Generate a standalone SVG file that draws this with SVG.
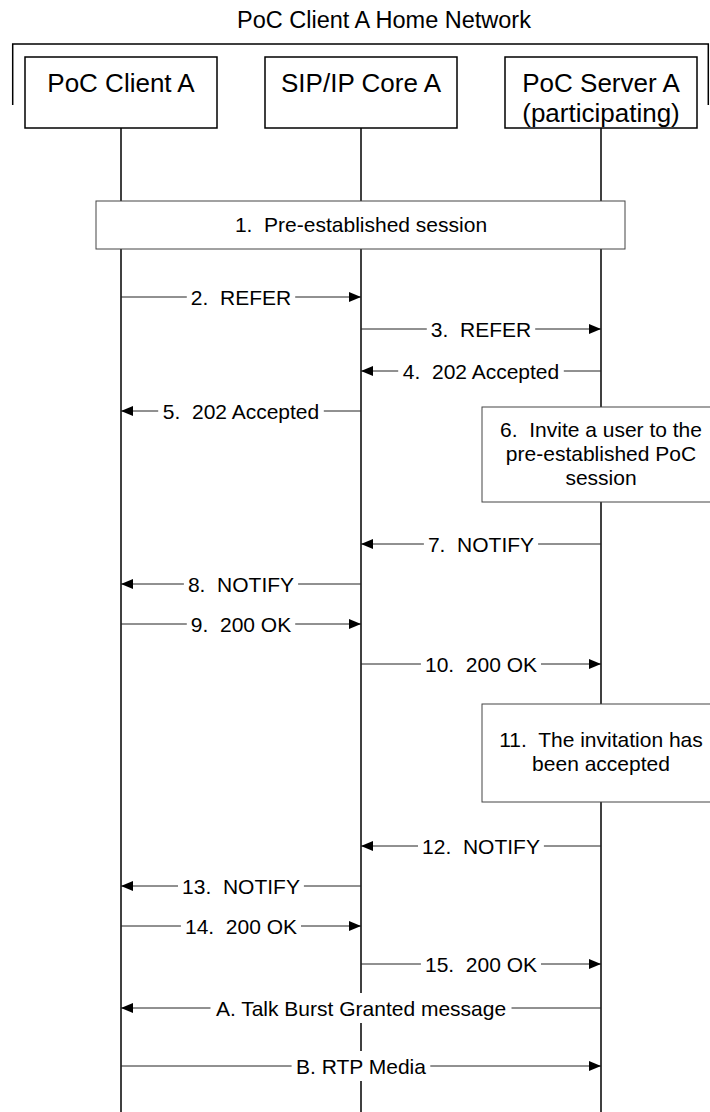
<svg xmlns="http://www.w3.org/2000/svg" width="710" height="1112" viewBox="0 0 710 1112">
<style>
text{font-family:"Liberation Sans",Arial,sans-serif;fill:#000}
.title{font-size:23.5px}
.hdr{font-size:26px}
.lbl{font-size:21px}
.hbox{fill:#fff;stroke:#000;stroke-width:1.5}
.sbox{fill:#fff;stroke:#444;stroke-width:1}
.life{stroke:#000;stroke-width:1.5;fill:none}
.msg{stroke:#222;stroke-width:1;fill:none;marker-end:url(#ah)}
.bg{fill:#fff}
</style>
<defs>
<marker id="ah" markerUnits="userSpaceOnUse" markerWidth="12" markerHeight="10" refX="12" refY="5" orient="auto">
<path d="M0,0 L12,5 L0,10 z" fill="#000"/>
</marker>
</defs>
<rect width="710" height="1112" fill="#fff"/>
<g id="network">
<text class="title" x="384" y="28" text-anchor="middle">PoC Client A Home Network</text>
<path class="life" d="M12.7,105 V44 H708.3 V105"/>
</g>
<g id="lifelines">
<line class="life" x1="121" y1="128" x2="121" y2="1112"/>
<line class="life" x1="361" y1="128" x2="361" y2="1112"/>
<line class="life" x1="601" y1="128" x2="601" y2="1112"/>
</g>
<g id="clientA">
<rect class="hbox" x="25" y="57" width="192" height="71"/>
<text class="hdr" x="121" y="92" text-anchor="middle">PoC Client A</text>
</g>
<g id="sipCoreA">
<rect class="hbox" x="265" y="57" width="192" height="71"/>
<text class="hdr" x="361" y="92" text-anchor="middle">SIP/IP Core A</text>
</g>
<g id="serverA">
<rect class="hbox" x="505" y="57" width="192" height="71"/>
<text class="hdr" x="601" y="92" text-anchor="middle">PoC Server A</text>
<text class="hdr" x="601" y="122" text-anchor="middle">(participating)</text>
</g>
<g id="step1">
<rect class="sbox" x="96" y="201" width="529" height="48"/>
<text class="lbl" x="361" y="232" text-anchor="middle" xml:space="preserve">1.  Pre-established session</text>
</g>
<g id="step6">
<rect class="sbox" x="482" y="407" width="240" height="95"/>
<text class="lbl" x="601" y="437" text-anchor="middle" xml:space="preserve">6.  Invite a user to the</text>
<text class="lbl" x="601" y="461" text-anchor="middle">pre-established PoC</text>
<text class="lbl" x="601" y="485" text-anchor="middle">session</text>
</g>
<g id="step11">
<rect class="sbox" x="482" y="704" width="240" height="98"/>
<text class="lbl" x="601" y="747" text-anchor="middle" xml:space="preserve">11.  The invitation has</text>
<text class="lbl" x="601" y="771" text-anchor="middle">been accepted</text>
</g>
<g id="connectors">
<line class="msg" x1="121" y1="297" x2="361" y2="297"/>
<rect class="bg" x="186.8" y="284" width="108.4" height="26"/>
<text class="lbl" x="241" y="304.5" text-anchor="middle" xml:space="preserve">2.  REFER</text>

<line class="msg" x1="361" y1="329" x2="601" y2="329"/>
<rect class="bg" x="426.8" y="316" width="108.4" height="26"/>
<text class="lbl" x="481" y="336.5" text-anchor="middle" xml:space="preserve">3.  REFER</text>

<line class="msg" x1="601" y1="371" x2="361" y2="371"/>
<rect class="bg" x="398.2" y="358" width="165.6" height="26"/>
<text class="lbl" x="481" y="378.5" text-anchor="middle" xml:space="preserve">4.  202 Accepted</text>

<line class="msg" x1="361" y1="411" x2="121" y2="411"/>
<rect class="bg" x="158.2" y="398" width="165.6" height="26"/>
<text class="lbl" x="241" y="418.5" text-anchor="middle" xml:space="preserve">5.  202 Accepted</text>

<line class="msg" x1="601" y1="544" x2="361" y2="544"/>
<rect class="bg" x="423.9" y="531" width="114.2" height="26"/>
<text class="lbl" x="481" y="551.5" text-anchor="middle" xml:space="preserve">7.  NOTIFY</text>

<line class="msg" x1="361" y1="584" x2="121" y2="584"/>
<rect class="bg" x="183.9" y="571" width="114.2" height="26"/>
<text class="lbl" x="241" y="591.5" text-anchor="middle" xml:space="preserve">8.  NOTIFY</text>

<line class="msg" x1="121" y1="624" x2="361" y2="624"/>
<rect class="bg" x="186.8" y="611" width="108.4" height="26"/>
<text class="lbl" x="241" y="631.5" text-anchor="middle" xml:space="preserve">9.  200 OK</text>

<line class="msg" x1="361" y1="664" x2="601" y2="664"/>
<rect class="bg" x="420.9" y="651" width="120.1" height="26"/>
<text class="lbl" x="481" y="671.5" text-anchor="middle" xml:space="preserve">10.  200 OK</text>

<line class="msg" x1="601" y1="846" x2="361" y2="846"/>
<rect class="bg" x="418" y="833" width="125.9" height="26"/>
<text class="lbl" x="481" y="853.5" text-anchor="middle" xml:space="preserve">12.  NOTIFY</text>

<line class="msg" x1="361" y1="886" x2="121" y2="886"/>
<rect class="bg" x="178" y="873" width="125.9" height="26"/>
<text class="lbl" x="241" y="893.5" text-anchor="middle" xml:space="preserve">13.  NOTIFY</text>

<line class="msg" x1="121" y1="926" x2="361" y2="926"/>
<rect class="bg" x="180.9" y="913" width="120.1" height="26"/>
<text class="lbl" x="241" y="933.5" text-anchor="middle" xml:space="preserve">14.  200 OK</text>

<line class="msg" x1="361" y1="964" x2="601" y2="964"/>
<rect class="bg" x="420.9" y="951" width="120.1" height="26"/>
<text class="lbl" x="481" y="971.5" text-anchor="middle" xml:space="preserve">15.  200 OK</text>

<line class="msg" x1="601" y1="1008" x2="121" y2="1008"/>
<rect class="bg" x="210.5" y="993" width="301" height="30"/>
<text class="lbl" x="361" y="1015.5" text-anchor="middle">A. Talk Burst Granted message</text>

<line class="msg" x1="121" y1="1066" x2="601" y2="1066"/>
<rect class="bg" x="291.6" y="1051" width="138.7" height="30"/>
<text class="lbl" x="361" y="1073.5" text-anchor="middle">B. RTP Media</text>
</g>
</svg>
